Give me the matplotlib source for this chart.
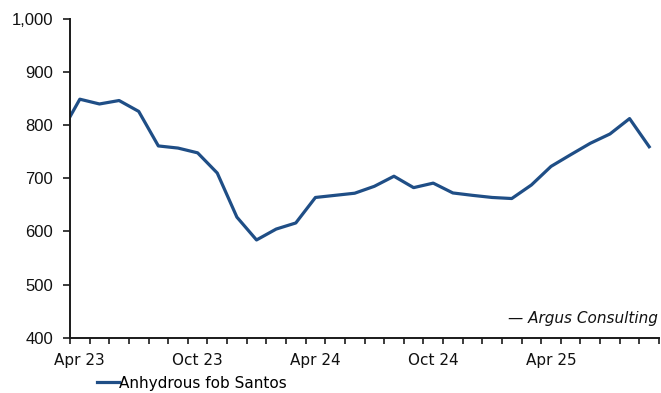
import matplotlib
matplotlib.use("Agg")
import matplotlib.pyplot as plt
from matplotlib.ticker import FuncFormatter, FixedLocator

# Monthly prices, mid-month observations (Mar 23 .. Sep 25)
months = ["Mar 23", "Apr 23", "May 23", "Jun 23", "Jul 23", "Aug 23", "Sep 23",
          "Oct 23", "Nov 23", "Dec 23", "Jan 24", "Feb 24", "Mar 24", "Apr 24",
          "May 24", "Jun 24", "Jul 24", "Aug 24", "Sep 24", "Oct 24", "Nov 24",
          "Dec 24", "Jan 25", "Feb 25", "Mar 25", "Apr 25", "May 25", "Jun 25",
          "Jul 25", "Aug 25", "Sep 25"]
prices = [783, 849, 840, 846.5, 826, 761, 757, 748, 710, 627, 584, 604.5, 616,
          664, 668, 672, 685, 704, 682.5, 691, 672.5, 668, 664, 662, 687.5,
          722.5, 744.5, 766, 783.5, 812.5, 759.5]
tick_labels = ["Apr 23", "Oct 23", "Apr 24", "Oct 24", "Apr 25"]
series_name = "Anhydrous fob Santos"
source_note = "\u2014 Argus Consulting"

line_color = "#1f4e86"

fig = plt.figure(figsize=(6.61, 3.93), dpi=100)
ax = fig.add_axes([0.1059, 0.1407, 0.8911, 0.811])

# x positions: month index, where 0 is the start of Apr 23; points sit mid-month
start = months.index("Apr 23")
xs = [i - start + 0.5 for i in range(len(months))]
ax.plot(xs, prices, color=line_color, lw=2.3, solid_joinstyle="round",
        label=series_name)

n_months = 30
ax.set_xlim(0, n_months)
ax.set_ylim(400, 1000)

for s in ("top", "right"):
    ax.spines[s].set_visible(False)
for s in ("left", "bottom"):
    ax.spines[s].set_linewidth(1.4)
    ax.spines[s].set_color("#1a1a1a")

# Month-boundary ticks, labels centred in the month
ax.xaxis.set_major_locator(FixedLocator(range(0, n_months + 1)))
ax.xaxis.set_major_formatter(FuncFormatter(lambda v, p: ""))
label_pos = [months.index(m) - start + 0.5 for m in tick_labels]
ax.xaxis.set_minor_locator(FixedLocator(label_pos))
ax.set_xticklabels(tick_labels, minor=True)
ax.tick_params(axis="x", which="major", length=4, width=1.2, direction="out",
               color="#1a1a1a")
ax.tick_params(axis="x", which="minor", length=0, pad=11, labelsize=11,
               labelcolor="#111111")
for t in ax.get_xticklabels(minor=True):
    t.set_fontfamily("DejaVu Sans")

ax.set_yticks(range(400, 1001, 100))
ax.yaxis.set_major_formatter(FuncFormatter(lambda v, p: f"{int(v):,}"))
ax.tick_params(axis="y", length=5, width=1.2, pad=7, labelsize=12,
               color="#1a1a1a", labelcolor="#111111")
for t in ax.get_yticklabels():
    t.set_fontfamily("Liberation Sans")

ax.text(0.998, 0.06, source_note, transform=ax.transAxes, ha="right",
        va="center", fontsize=11, style="italic", family="DejaVu Sans",
        color="#111111")

fig.legend(loc="center left", bbox_to_anchor=(0.147, 0.025), frameon=False,
           handlelength=1.4, handletextpad=0.0, borderpad=0, borderaxespad=0,
           prop={"family": "DejaVu Sans", "size": 11})

fig.savefig("out.png", dpi=100)
